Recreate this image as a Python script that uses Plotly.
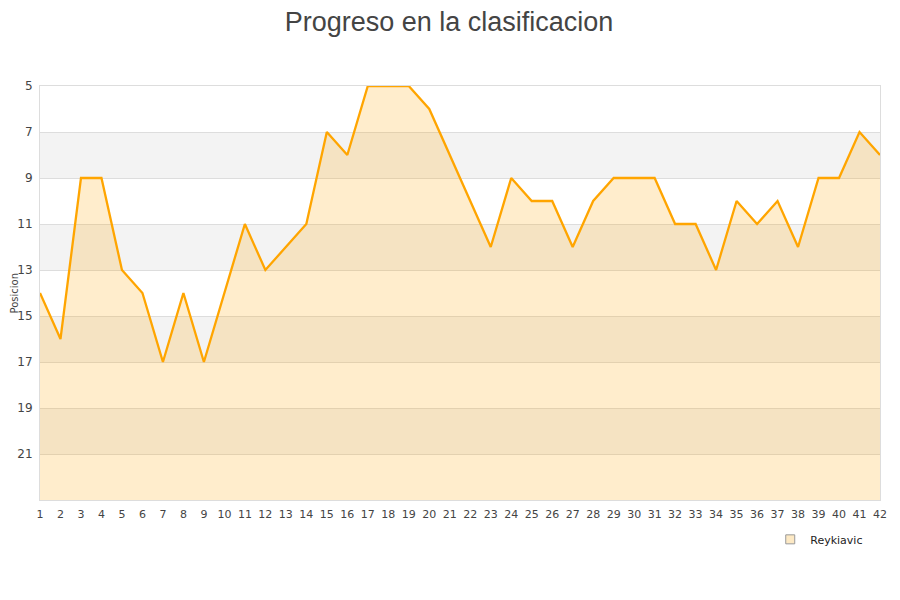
import plotly.graph_objects as go

# jornada vs posicion en la tabla
jornadas = list(range(1, 43))
posiciones = [14, 16, 9, 9, 13, 14, 17, 14, 17, 14,
              11, 13, 12, 11, 7, 8, 5, 5, 5, 6,
              8, 10, 12, 9, 10, 10, 12, 10, 9, 9,
              9, 11, 11, 13, 10, 11, 10, 12, 9, 9,
              7, 8]
equipo = "Reykiavic"
y_ticks = [5, 7, 9, 11, 13, 15, 17, 19, 21]
y_bottom = 23

fig = go.Figure()

# fondo a bandas alternas
for i in range(len(y_ticks)):
    lo = y_ticks[i]
    hi = y_ticks[i + 1] if i + 1 < len(y_ticks) else y_bottom
    fig.add_shape(type="rect", xref="paper", yref="y", x0=0, x1=1, y0=lo, y1=hi,
                  fillcolor="#f3f3f3" if i % 2 else "white",
                  line_width=0, layer="below")

# relleno hasta el fondo
fig.add_trace(go.Scatter(x=jornadas, y=[y_bottom] * len(jornadas),
                         mode="lines", line=dict(width=0),
                         showlegend=False, hoverinfo="skip"))
fig.add_trace(go.Scatter(x=jornadas, y=posiciones, mode="lines", name=equipo,
                         line=dict(color="#ffa500", width=2.3),
                         fill="tonexty", fillcolor="rgba(255,165,0,0.2)",
                         showlegend=False))
# solo para la leyenda (cuadradito)
fig.add_trace(go.Scatter(x=[None], y=[None], mode="markers", name=equipo,
                         marker=dict(symbol="square", size=9, color="#fde9c4",
                                     line=dict(color="#999", width=1))))

# titulo del eje y como anotacion
fig.add_annotation(text="Posicion", xref="paper", yref="paper", x=-0.0315, y=0.5,
                   xanchor="center", yanchor="middle", textangle=-90,
                   showarrow=False, font=dict(size=10, color="#444"))

fig.update_layout(
    width=900, height=600,
    title=dict(text="Progreso en la clasificacion", x=0.49, xanchor="center",
               y=1, yanchor="top", pad=dict(t=4),
               font=dict(family="Liberation Sans", size=27, color="#444")),
    font=dict(family="DejaVu Sans", size=11, color="#444"),
    plot_bgcolor="white", paper_bgcolor="white",
    margin=dict(l=32, r=28, t=78, b=108, autoexpand=False),
    legend=dict(x=0.986, xanchor="right", y=-0.06, yanchor="top",
                font=dict(size=11, color="#222"), bgcolor="rgba(0,0,0,0)",
                itemwidth=30),
)
fig.update_xaxes(range=[1, 42], tickmode="array", tickvals=jornadas,
                 showgrid=False, zeroline=False, showline=True, linecolor="#ddd",
                 mirror=True, ticks="", tickfont=dict(size=11),
                 ticklabelstandoff=4, automargin=False)
fig.update_yaxes(range=[y_bottom, 5], tickmode="array", tickvals=y_ticks,
                 showgrid=True, gridcolor="#ddd", zeroline=False,
                 showline=True, linecolor="#ddd", mirror=True, ticks="",
                 tickfont=dict(size=12), ticklabelstandoff=4,
                 automargin=False, layer="above traces")

fig.write_html("out.html")
